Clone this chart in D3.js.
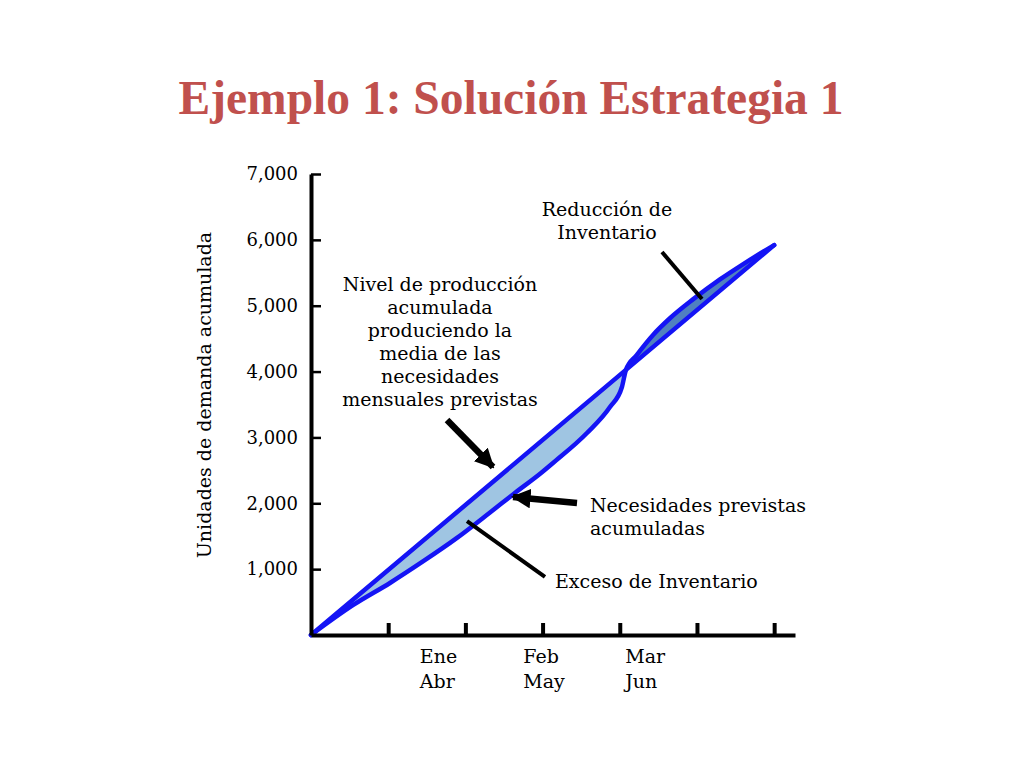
<!DOCTYPE html>
<html><head><meta charset="utf-8">
<script src="https://cdnjs.cloudflare.com/ajax/libs/d3/7.8.5/d3.min.js"></script>
<style>
html,body{margin:0;padding:0;background:#fff;}
svg{display:block;}
text{font-family:"DejaVu Serif",serif;}
</style></head>
<body>
<script>
// ---- data ----
const title = "Ejemplo 1: Solución Estrategia 1";
const yAxisTitle = "Unidades de demanda acumulada";
const yTicks = [1000, 2000, 3000, 4000, 5000, 6000, 7000];
const xTicks = [1, 2, 3, 4, 5, 6];
const xLabelTop = ["Ene", "Feb", "Mar"];
const xLabelBottom = ["Abr", "May", "Jun"];
const xLabelPos = [1.41, 2.75, 4.07];
// cumulative production level (constant rate)
const prodMonths = [0, 6];
const prodValues = [0, 5920];
// cumulative forecast demand
const demMonths = [0, 0.548, 1.023, 1.455, 1.887, 2.319, 2.617, 2.98, 3.135, 3.575, 3.873, 4.028, 4.08, 4.219, 4.434, 4.65, 4.952, 5.298, 5.6, 6.0];
const demValues = [0, 456, 790, 1120, 1470, 1860, 2135, 2460, 2612, 3067, 3462, 3766, 4026, 4250, 4560, 4810, 5100, 5400, 5633, 5920];
const crossMonth = 4.08;

// ---- layout ----
const W = 1024, H = 768;
const svg = d3.select("body").append("svg").attr("width", W).attr("height", H);
const x = d3.scaleLinear().domain([0, 6.27]).range([311, 795]);
const y = d3.scaleLinear().domain([0, 7000]).range([635, 174]);
const prod = d3.scaleLinear().domain(prodMonths).range(prodValues);

const blue = "#1414f5", light = "#9fc5e2", dark = "#5080c0", ink = "#000";

// title
svg.append("text").attr("x", 511).attr("y", 114).attr("text-anchor", "middle")
  .style("font-family", "'Liberation Serif',serif").style("font-weight", "bold")
  .style("font-size", "47.5px").attr("fill", "#c0504d").text(title);

// areas between curves
const pts = demMonths.map((m, i) => ({m, v: demValues[i]}));
const curve = d3.curveMonotoneX;
const area = d3.area().x(d => x(d.m)).y0(d => y(prod(d.m))).y1(d => y(d.v)).curve(curve);
svg.append("path").datum(pts.filter(d => d.m <= crossMonth)).attr("d", area).attr("fill", light);
svg.append("path").datum(pts.filter(d => d.m >= crossMonth)).attr("d", area).attr("fill", dark);

// lines
const line = d3.line().x(d => x(d.m)).y(d => y(d.v)).curve(curve);
svg.append("path").datum(pts).attr("d", line).attr("fill", "none").attr("stroke", blue)
  .attr("stroke-width", 4.5).attr("stroke-linejoin", "round").attr("stroke-linecap", "round");
svg.append("path").datum(prodMonths.map((m, i) => ({m, v: prodValues[i]}))).attr("d", line)
  .attr("fill", "none").attr("stroke", blue).attr("stroke-width", 4.5).attr("stroke-linecap", "round");

// axes
const yAxis = svg.append("g").attr("transform", `translate(${x(0)},0)`)
  .call(d3.axisLeft(y).tickValues(yTicks).tickFormat(d3.format(",")).tickSizeInner(-10).tickSizeOuter(0).tickPadding(13));
yAxis.select(".domain").attr("stroke", ink).attr("stroke-width", 4);
yAxis.selectAll(".tick line").attr("stroke", ink).attr("stroke-width", 2.5);
yAxis.selectAll(".tick text").style("font-family", "'DejaVu Serif',serif").style("font-size", "18px").attr("fill", ink);

const xAxis = svg.append("g").attr("transform", `translate(0,${y(0)})`)
  .call(d3.axisBottom(x).tickValues(xTicks).tickFormat("").tickSizeInner(-12).tickSizeOuter(0));
xAxis.select(".domain").attr("stroke", ink).attr("stroke-width", 4);
xAxis.selectAll(".tick line").attr("stroke", ink).attr("stroke-width", 4);

const xl = svg.append("g").style("font-size", "19px").attr("fill", ink);
xLabelPos.forEach((p, i) => {
  xl.append("text").attr("x", x(p)).attr("y", y(0) + 28).text(xLabelTop[i]);
  xl.append("text").attr("x", x(p)).attr("y", y(0) + 53).text(xLabelBottom[i]);
});

// y axis title
svg.append("text").attr("transform", `translate(211,395) rotate(-90)`)
  .attr("text-anchor", "middle").style("font-size", "19px").attr("fill", ink).text(yAxisTitle);

// annotations
const notes = [
  {m: 1.671, v: 5228, anchor: "middle", lines: ["Nivel de producción", "acumulada", "produciendo la", "media de las", "necesidades", "mensuales previstas"]},
  {m: 3.834, v: 6362, anchor: "middle", lines: ["Reducción de", "Inventario"]},
  {m: 3.614, v: 1872, anchor: "start", lines: ["Necesidades previstas", "acumuladas"]},
  {m: 3.161, v: 714, anchor: "start", lines: ["Exceso de Inventario"]}
];
notes.forEach(n => {
  const t = svg.append("text").attr("text-anchor", n.anchor).style("font-size", "19px").attr("fill", ink);
  n.lines.forEach((s, i) => t.append("tspan").attr("x", x(n.m)).attr("y", y(n.v) + i * 23).text(s));
});

// pointers
const defs = svg.append("defs");
defs.append("marker").attr("id", "ah").attr("viewBox", "0 0 10 10").attr("refX", 9).attr("refY", 5)
  .attr("markerWidth", 3).attr("markerHeight", 3).attr("orient", "auto").attr("markerUnits", "strokeWidth")
  .append("path").attr("d", "M0,0 L10,5 L0,10 Z").attr("fill", ink);
const pointers = [
  {m1: 1.762, v1: 3265, m2: 2.358, v2: 2551, w: 6.5, head: true},
  {m1: 3.446, v1: 2004, m2: 2.617, v2: 2095, w: 6.5, head: true},
  {m1: 3.031, v1: 881, m2: 2.021, v2: 1731, w: 4, head: false},
  {m1: 4.547, v1: 5815, m2: 5.065, v2: 5102, w: 4, head: false}
];
pointers.forEach(p => {
  const l = svg.append("line").attr("x1", x(p.m1)).attr("y1", y(p.v1)).attr("x2", x(p.m2)).attr("y2", y(p.v2))
    .attr("stroke", ink).attr("stroke-width", p.w);
  if (p.head) l.attr("marker-end", "url(#ah)");
});
</script>
</body></html>
